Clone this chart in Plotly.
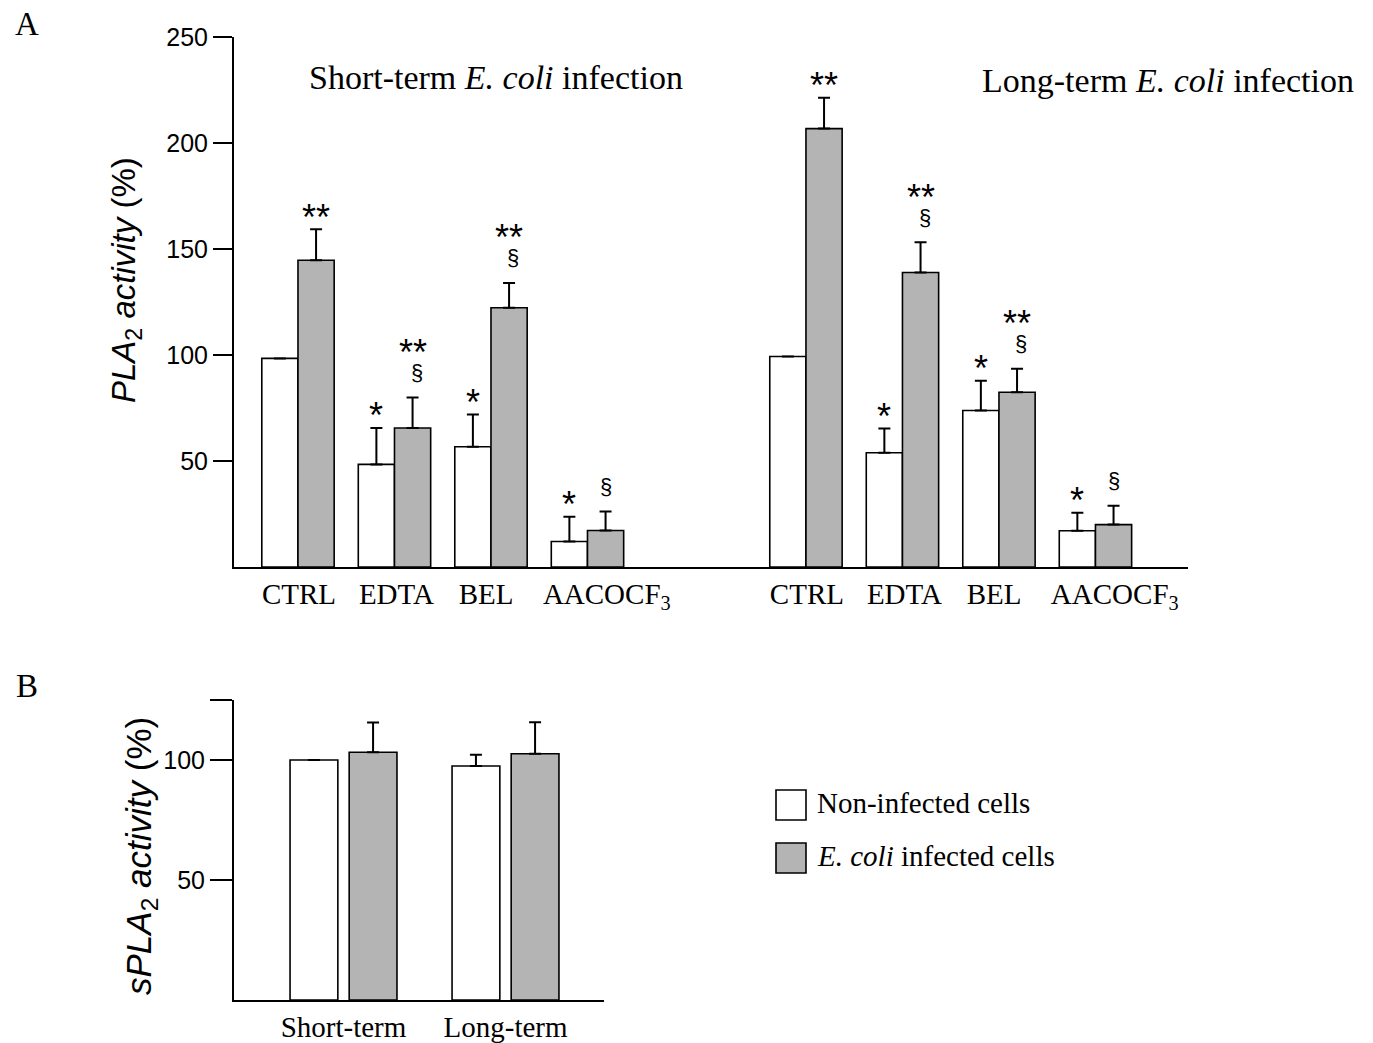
import plotly.graph_objects as go

# page offset of the figure inside the browser window (body margin)
OFF = 8
W, H = 1373 - OFF, 1043 - OFF

# ---------------- data (panel A) ----------------
categories = ["CTRL", "EDTA", "BEL", "AACOCF<sub>3</sub>"]
short_non = [98.4, 48.4, 56.7, 12.0]
short_non_err = [None, 17.2, 15.2, 11.7]
short_inf = [144.7, 65.6, 122.3, 17.2]
short_inf_err = [14.6, 14.3, 11.7, 9.0]
long_non = [99.3, 53.9, 73.8, 17.1]
long_non_err = [None, 11.4, 14.1, 8.5]
long_inf = [206.8, 138.9, 82.4, 20.0]
long_inf_err = [14.6, 14.3, 11.1, 8.9]
short_non_sig = ["", "*", "*", "*"]
short_inf_sig = ["**", "**§", "**§", "§"]
long_non_sig = ["", "*", "*", "*"]
long_inf_sig = ["**", "**§", "**§", "§"]
y_ticks_a = [50, 100, 150, 200, 250]

# ---------------- data (panel B) ----------------
b_categories = ["Short-term", "Long-term"]
b_non = [100.0, 97.5]
b_non_err = [None, 4.7]
b_inf = [103.2, 102.6]
b_inf_err = [12.4, 13.1]
y_ticks_b = [50, 100, 125]
y_ticktext_b = ["50", "100", " "]

legend_labels = ["Non-infected cells", "<i>E. coli</i> infected cells"]

WHITE = "#ffffff"
GRAY = "#b4b4b4"
SERIF = "Liberation Serif"
SANS = "Liberation Sans"

def px(x):
    return (x - OFF) / W

def py(y):
    return 1 - (y - OFF) / H

LONG_OFFSET = 5.264
BW = 0.375
LABEL_NUDGE = [0.01, 0.02, -0.05, 0.2]   # small label offsets, as in the original
x_short = [i for i in range(len(categories))]
x_long = [i + LONG_OFFSET for i in range(len(categories))]
tick_pos = [x + n for x, n in zip(x_short, LABEL_NUDGE)] + \
           [x + n for x, n in zip(x_long, LABEL_NUDGE)]

fig = go.Figure()

def add_bars(xs, vals, errs, color, offset, width, xaxis, yaxis):
    fig.add_trace(go.Bar(
        x=xs, y=vals, width=width, offset=offset,
        marker=dict(color=color, line=dict(color="black", width=1.6)),
        error_y=dict(type="data", array=errs, arrayminus=[0] * len(errs),
                     symmetric=False, color="black", thickness=2, width=6),
        xaxis=xaxis, yaxis=yaxis, showlegend=False, hoverinfo="skip",
    ))

add_bars(x_short, short_non, short_non_err, WHITE, -BW, BW, "x", "y")
add_bars(x_short, short_inf, short_inf_err, GRAY, 0, BW, "x", "y")
add_bars(x_long, long_non, long_non_err, WHITE, -BW, BW, "x", "y")
add_bars(x_long, long_inf, long_inf_err, GRAY, 0, BW, "x", "y")

# panel B
xb = list(range(len(b_categories)))
add_bars(xb, b_non, b_non_err, WHITE, -0.33, 0.295, "x2", "y2")
add_bars(xb, b_inf, b_inf_err, GRAY, 0.035, 0.295, "x2", "y2")

annotations = []
STAR = dict(family=SANS, size=36, color="black")
SECT = dict(family=SANS, size=22, color="black")

def sig_annots(xs, vals, errs, sigs, center_shift):
    for x, v, e, s in zip(xs, vals, errs, sigs):
        if not s:
            continue
        top = v + (e or 0)
        xc = x + center_shift
        if s == "*" or s == "**":
            annotations.append(dict(x=xc, y=top, xref="x", yref="y", text=s,
                                    showarrow=False, xanchor="center", yanchor="middle",
                                    yshift=12, font=STAR))
        elif s == "§":
            annotations.append(dict(x=xc, y=top, xref="x", yref="y", text="§",
                                    showarrow=False, xanchor="center", yanchor="middle",
                                    yshift=25, font=SECT))
        else:  # "**§"
            annotations.append(dict(x=xc, y=top, xref="x", yref="y", text="**",
                                    showarrow=False, xanchor="center", yanchor="middle",
                                    yshift=45, font=STAR))
            annotations.append(dict(x=xc, y=top, xref="x", yref="y", text="§",
                                    showarrow=False, xanchor="center", yanchor="middle",
                                    yshift=25, xshift=4, font=SECT))

sig_annots(x_short, short_non, short_non_err, short_non_sig, -BW / 2)
sig_annots(x_short, short_inf, short_inf_err, short_inf_sig, BW / 2)
sig_annots(x_long, long_non, long_non_err, long_non_sig, -BW / 2)
sig_annots(x_long, long_inf, long_inf_err, long_inf_sig, BW / 2)

def paper_text(x, y, text, font, xanchor="center", angle=0):
    annotations.append(dict(x=px(x), y=py(y), xref="paper", yref="paper",
                            xanchor=xanchor, yanchor="middle", showarrow=False,
                            text=text, textangle=angle, font=font))

# group titles
paper_text(307, 78, "Short-term <i>E. coli</i> infection",
           dict(family=SERIF, size=34, color="black"), xanchor="left")
paper_text(980, 80, "Long-term <i>E. coli</i> infection",
           dict(family=SERIF, size=34, color="black"), xanchor="left")
# panel letters
paper_text(27, 24, "A", dict(family=SERIF, size=33, color="black"))
paper_text(27, 686, "B", dict(family=SERIF, size=33, color="black"))
# axis titles
paper_text(126, 280, "<i>PLA</i><sub>2</sub><i> activity</i> (%)",
           dict(family=SANS, size=33, color="black"), angle=-90)
paper_text(141, 856, "<i>sPLA</i><sub>2</sub><i> activity</i> (%)",
           dict(family=SANS, size=35, color="black"), angle=-90)

# custom legend
shapes = []
leg_fill = [WHITE, GRAY]
leg_y = [805, 858]
for lab, col, yc in zip(legend_labels, leg_fill, leg_y):
    shapes.append(dict(type="rect", xref="paper", yref="paper",
                       x0=px(776), x1=px(806), y0=py(yc - 15), y1=py(yc + 15),
                       fillcolor=col, line=dict(color="black", width=1.6)))
    paper_text(815, yc - 2, lab, dict(family=SERIF, size=29, color="black"), xanchor="left")

fig.update_layout(
    width=W, height=H, autosize=False,
    margin=dict(l=0, r=0, t=0, b=0, autoexpand=False),
    paper_bgcolor="white", plot_bgcolor="white",
    barmode="group",
    annotations=annotations, shapes=shapes,
    xaxis=dict(domain=[px(234), px(1188)], range=[-0.663, 9.223],
               tickvals=tick_pos,
               ticktext=categories + categories, automargin=False,
               showline=True, linecolor="black", linewidth=2, ticks="",
               showgrid=False, zeroline=False, ticklabelstandoff=0,
               tickfont=dict(family=SERIF, size=29, color="black"), anchor="y"),
    yaxis=dict(domain=[py(567), py(37)], range=[0, 250], tickvals=y_ticks_a,
               showline=True, linecolor="black", linewidth=2, ticks="outside",
               automargin=False,
               ticklen=19, tickwidth=2, tickcolor="black", showgrid=False, zeroline=False,
               tickfont=dict(family=SANS, size=25, color="black"), anchor="x"),
    xaxis2=dict(domain=[px(234), px(604)], range=[-0.676, 1.608],
                tickvals=xb, ticktext=b_categories, automargin=False,
                showline=True, linecolor="black", linewidth=2, ticks="",
                showgrid=False, zeroline=False, ticklabelstandoff=0,
                tickfont=dict(family=SERIF, size=29, color="black"), anchor="y2"),
    yaxis2=dict(domain=[py(1000), py(700)], range=[0, 125], tickvals=y_ticks_b,
                ticktext=y_ticktext_b, automargin=False,
                showline=True, linecolor="black", linewidth=2, ticks="outside",
                ticklen=22, tickwidth=2, tickcolor="black", showgrid=False, zeroline=False,
                tickfont=dict(family=SANS, size=25, color="black"), anchor="x2"),
)

fig.write_html("out.html")
